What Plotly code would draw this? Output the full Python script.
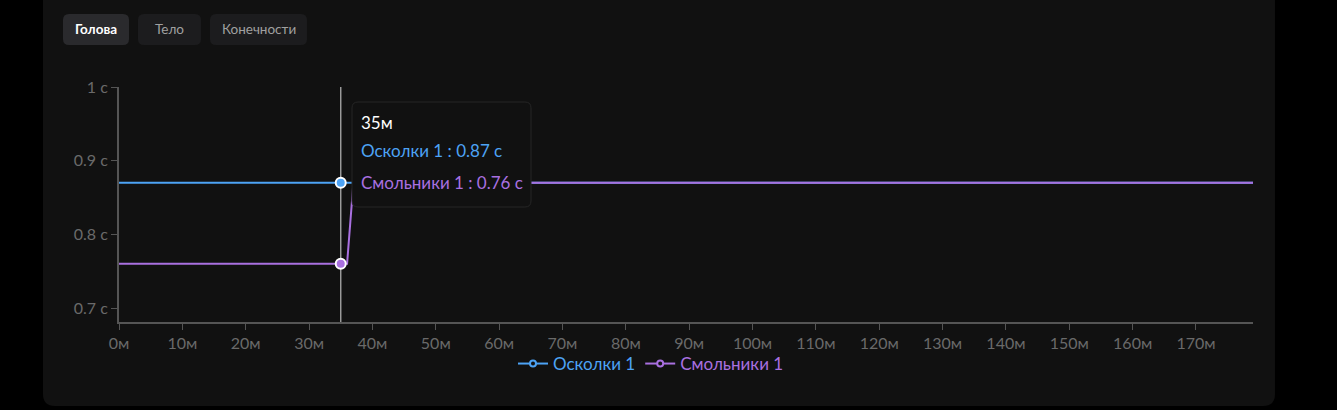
import plotly.graph_objects as go

# ---- data ----
tabs = ["Голова", "Тело", "Конечности"]
series_names = ["Осколки 1", "Смольники 1"]
osk_x = [0, 35, 179]
osk_y = [0.87, 0.87, 0.87]
sml_x = [0, 35, 36, 37, 179]
sml_y = [0.76, 0.76, 0.76, 0.87, 0.87]
x_ticks = list(range(0, 180, 10))
x_tick_labels = [f"{v}м" for v in x_ticks]
y_ticks = [0.7, 0.8, 0.9, 1.0]
y_tick_labels = ["0.7 с", "0.8 с", "0.9 с", "1 с"]
hover_x = 35
hover_title = "35м"

BLUE = "#4da3f5"
PURPLE = "#a970e0"
FONT = "Lato, 'Noto Sans', sans-serif"

W, H = 1337, 410
L, T = 119, 87
R = W - 1253
B = H - 322
PW, PH = W - L - R, H - T - B


def px2paper(px, py):
    return (px - L) / PW, (H - B - py) / PH


def rrect(x0, y0, x1, y1, r):
    def P(x, y):
        a, b = px2paper(x, y)
        return f"{a:.5f},{b:.5f}"
    return (f"M {P(x0 + r, y0)} L {P(x1 - r, y0)} Q {P(x1, y0)} {P(x1, y0 + r)} "
            f"L {P(x1, y1 - r)} Q {P(x1, y1)} {P(x1 - r, y1)} L {P(x0 + r, y1)} "
            f"Q {P(x0, y1)} {P(x0, y1 - r)} L {P(x0, y0 + r)} Q {P(x0, y0)} {P(x0 + r, y0)} Z")


fig = go.Figure()
fig.add_trace(go.Scatter(x=osk_x, y=osk_y, mode="lines",
                         line=dict(color=BLUE, width=2), showlegend=False, hoverinfo="skip"))
fig.add_trace(go.Scatter(x=sml_x, y=sml_y, mode="lines",
                         line=dict(color=PURPLE, width=2), showlegend=False, hoverinfo="skip"))
fig.add_trace(go.Scatter(x=[hover_x], y=[osk_y[1]], mode="markers",
                         marker=dict(color=BLUE, size=10, line=dict(color="white", width=2)),
                         showlegend=False, hoverinfo="skip"))
fig.add_trace(go.Scatter(x=[hover_x], y=[sml_y[1]], mode="markers",
                         marker=dict(color=PURPLE, size=10, line=dict(color="white", width=2)),
                         showlegend=False, hoverinfo="skip"))
for nm, col in zip(series_names, [BLUE, PURPLE]):
    fig.add_trace(go.Scatter(x=[None], y=[None], mode="lines+markers",
                             name=f"<span style='color:{col}'>{nm}</span>",
                             line=dict(color=col, width=2),
                             marker=dict(color="#111111", size=6, line=dict(color=col, width=2))))

shapes = []
shapes.append(dict(type="path", path=rrect(43, -20, 1275, 406, 12), xref="paper", yref="paper",
                   fillcolor="#111111", line=dict(width=0), layer="below"))
tab_boxes = [(63, 14, 129, 45), (138, 14, 201, 45), (210, 14, 307, 45)]
tab_fill = ["#2a2a2d", "#1c1c1e", "#1c1c1e"]
for (a, b, c, d), f in zip(tab_boxes, tab_fill):
    shapes.append(dict(type="path", path=rrect(a, b, c, d, 6), xref="paper", yref="paper",
                       fillcolor=f, line=dict(width=0), layer="below"))
shapes.append(dict(type="line", x0=hover_x, x1=hover_x, xref="x", y0=0, y1=1, yref="paper",
                   line=dict(color="#9a9a9a", width=1.5), layer="below"))
shapes.append(dict(type="path", path=rrect(352, 102, 531, 207, 6), xref="paper", yref="paper",
                   fillcolor="#111111", line=dict(color="#262626", width=1), layer="above"))

annotations = []
for (a, b, c, d), t, i in zip(tab_boxes, tabs, range(3)):
    cx, cy = px2paper((a + c) / 2, (b + d) / 2)
    annotations.append(dict(x=cx, y=cy, xref="paper", yref="paper", text=f"<b>{t}</b>" if i == 0 else t,
                            showarrow=False, font=dict(family=FONT, size=13.5,
                                                        color="#ffffff" if i == 0 else "#a0a0a0"),
                            xanchor="center", yanchor="middle"))
tip_lines = [(hover_title, "#ffffff", 122),
             (f"{series_names[0]} : {osk_y[1]:.2f} с", BLUE, 150),
             (f"{series_names[1]} : {sml_y[1]:.2f} с", PURPLE, 182)]
for txt, col, py in tip_lines:
    ax, ay = px2paper(359, py)
    annotations.append(dict(x=ax, y=ay, xref="paper", yref="paper", text=txt, showarrow=False,
                            xanchor="left", yanchor="middle",
                            font=dict(family=FONT, size=17, color=col)))

lx, ly = px2paper(651, 364)
fig.update_layout(
    width=W, height=H,
    margin=dict(l=L, r=R, t=T, b=B),
    paper_bgcolor="#000000", plot_bgcolor="rgba(0,0,0,0)",
    font=dict(family=FONT, color="#6a6a6a", size=16),
    shapes=shapes, annotations=annotations,
    xaxis=dict(range=[0, 179], tickvals=x_ticks, ticktext=x_tick_labels, showgrid=False, zeroline=False,
               showline=True, linecolor="#555555", linewidth=2, ticks="outside", ticklen=6,
               tickcolor="#555555", tickfont=dict(size=16, color="#6a6a6a")),
    yaxis=dict(range=[0.681, 1.0], tickvals=y_ticks, ticktext=y_tick_labels, showgrid=False, zeroline=False,
               showline=True, linecolor="#555555", linewidth=2, ticks="outside", ticklen=6,
               tickcolor="#555555", tickfont=dict(size=16, color="#6a6a6a")),
    legend=dict(orientation="h", x=lx, xanchor="center", y=ly, yanchor="middle",
                font=dict(size=17, family=FONT), bgcolor="rgba(0,0,0,0)", itemwidth=30),
)
fig.write_html("out.html", config={"displayModeBar": False},
               post_script="document.body.style.margin='0';document.body.style.padding='0';"
                           "document.body.style.background='#000';document.body.style.overflow='hidden';")
